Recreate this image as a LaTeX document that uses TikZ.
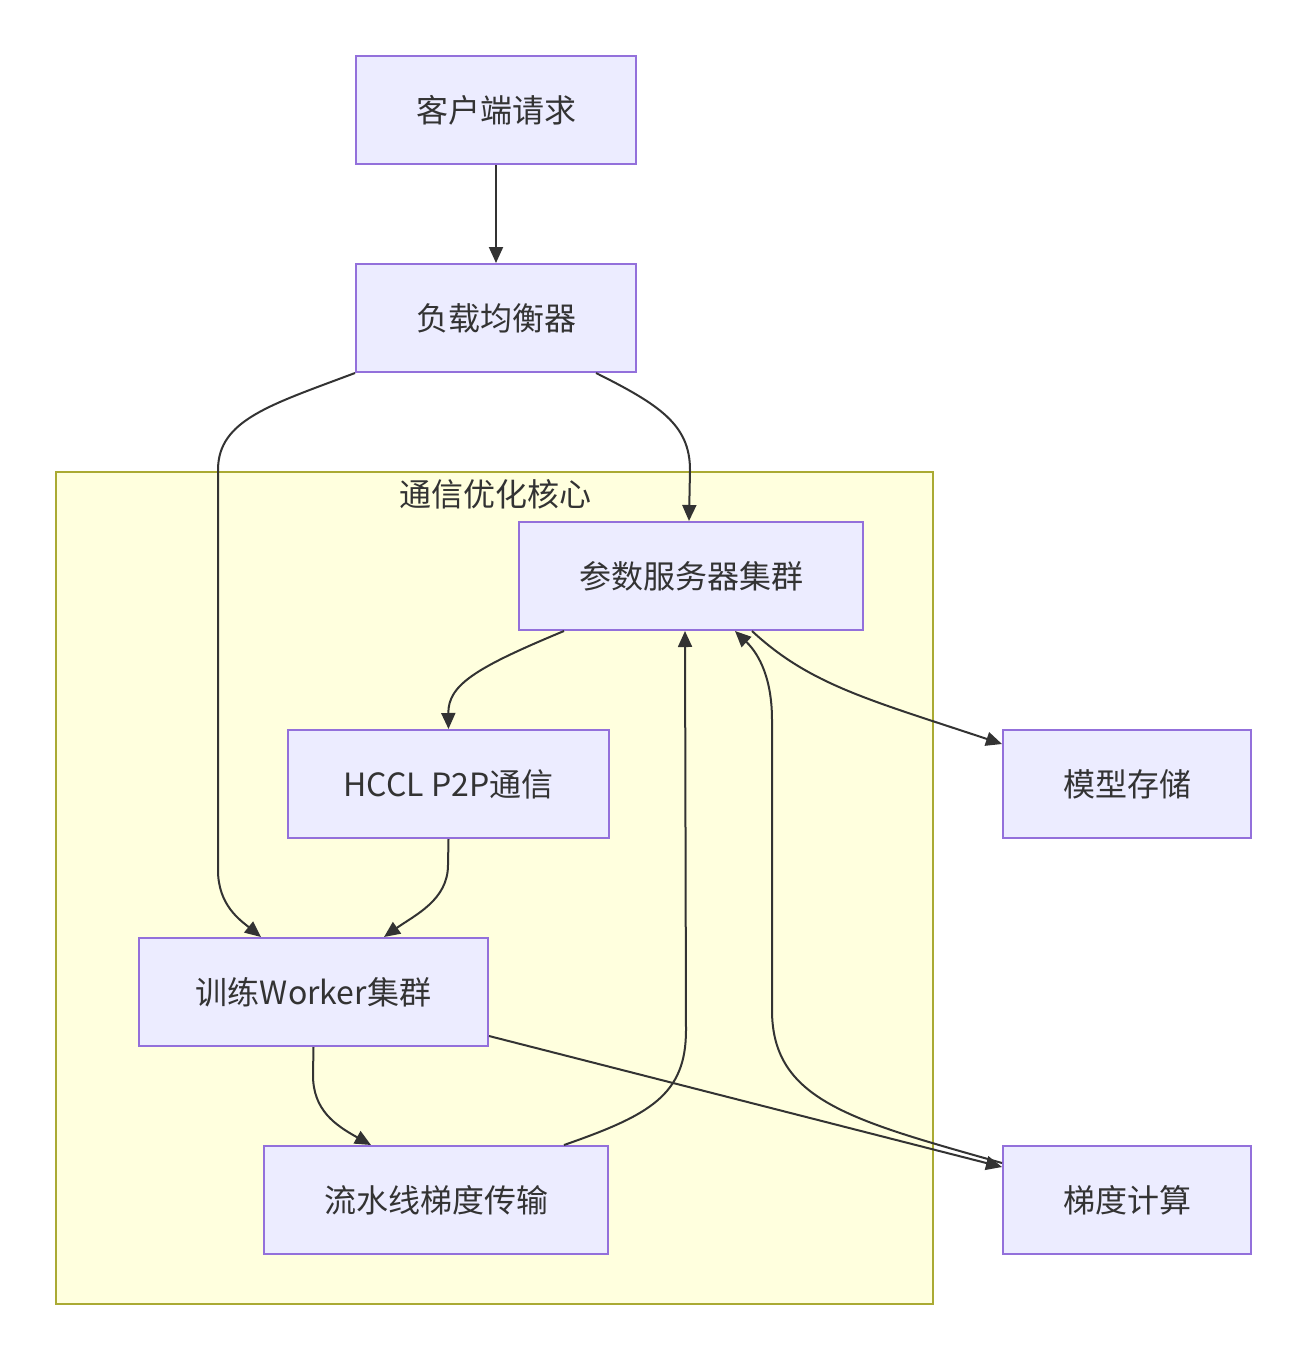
\documentclass[tikz,border=0pt]{standalone}
\usepackage{fontspec}
\setmainfont{Noto Sans CJK SC}
\usetikzlibrary{arrows.meta,calc}
\definecolor{nodefill}{HTML}{ECECFF}
\definecolor{nodeline}{HTML}{9370DB}
\definecolor{clfill}{HTML}{FFFFDE}
\definecolor{clline}{HTML}{AAAA33}
\definecolor{edgecol}{HTML}{333333}
\tikzset{
  box/.style={draw=nodeline, fill=nodefill, line width=2pt, text=edgecol,
    font=\fontsize{32}{37}\selectfont, inner sep=0pt, minimum height=108pt},
  edge/.style={draw=edgecol, line width=2pt, -{Triangle[length=16pt,width=14pt]}},
}
\begin{document}
\begin{tikzpicture}[x=1pt,y=-1pt]
\useasboundingbox (0,0) rectangle (1306,1360);
\fill[white] (0,0) rectangle (1306,1360);
% cluster
\node[draw=clline, fill=clfill, line width=2pt, minimum width=877pt, minimum height=832pt, inner sep=0pt] (cl) at (494.5,888) {};
\node[text=edgecol, font=\fontsize{32}{37}\selectfont] (cllabel) at (495,494) {通信优化核心};
% nodes
\node[box, minimum width=280pt] (client) at (496,110) {客户端请求};
\node[box, minimum width=280pt] (lb) at (496,318) {负载均衡器};
\node[box, minimum width=344pt] (ps) at (691,576) {参数服务器集群};
\node[box, minimum width=321pt] (hccl) at (448.5,784) {HCCL P2P通信};
\node[box, minimum width=248pt] (store) at (1127,784) {模型存储};
\node[box, minimum width=349pt] (worker) at (313.5,992) {训练Worker集群};
\node[box, minimum width=344pt] (pipe) at (436,1200) {流水线梯度传输};
\node[box, minimum width=248pt] (grad) at (1127,1200) {梯度计算};
% edges
\draw[edge] (client.south) -- (lb.north);
\draw[edge] (lb.south west) .. controls (270,405) and (218,420) .. (218,470) -- (218,870) .. controls (218,905) and (240,920) .. ([xshift=123pt]worker.north west);
\draw[edge] ([xshift=241pt]lb.south west) .. controls (660,405) and (690,425) .. (690,470) -- ([xshift=171pt]ps.north west);
\draw[edge] ([xshift=46pt]ps.south west) .. controls (475,668) and (448,685) .. (hccl.north);
\draw[edge] (hccl.south) -- (448,865) .. controls (448,900) and (415,915) .. ([xshift=246pt]worker.north west);
\draw[edge] ([xshift=234pt]ps.south west) .. controls (810,685) and (870,700) .. ([yshift=-15pt]store.north west);
\draw[edge] (worker.south) -- (313,1075) .. controls (313,1110) and (335,1125) .. ([xshift=108pt]pipe.north west);
\draw[edge] ([xshift=301pt]pipe.north west) .. controls (650,1115) and (686,1095) .. (686,1030) -- ([xshift=167pt]ps.south west);
\draw[edge] ([yshift=-44pt]worker.east) -- ([yshift=-22pt]grad.north west);
\draw[edge] ([yshift=-18pt]grad.north west) .. controls (850,1120) and (772,1100) .. (772,1010) -- (772,720) .. controls (772,680) and (760,655) .. ([xshift=217pt]ps.south west);
\end{tikzpicture}
\end{document}
